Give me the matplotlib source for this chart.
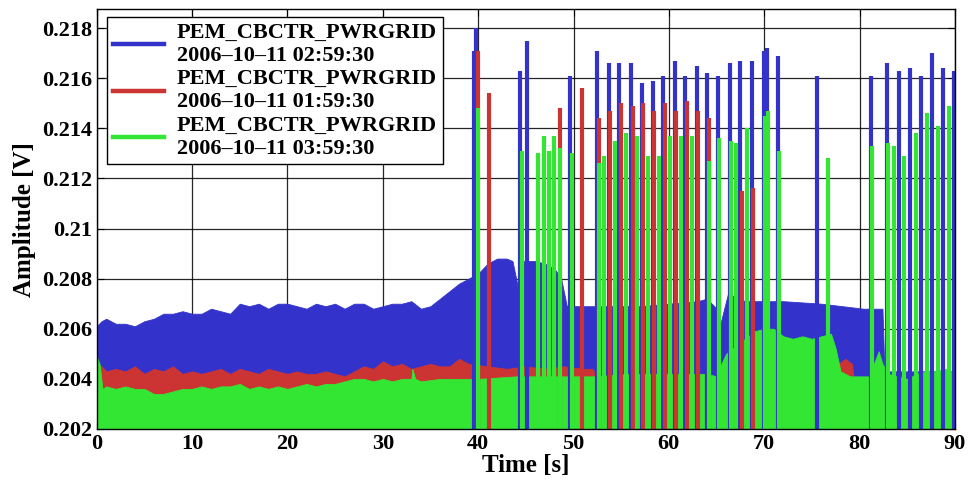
import numpy as np
import matplotlib
matplotlib.use('Agg')
import matplotlib.pyplot as plt

# -----------------------------------------------------------------------------
# Datos (envolvente superior de cada banda + picos)
# -----------------------------------------------------------------------------
BASE = 0.2015  # la senal baja por debajo del eje

blue_t = [0, 0.5, 1, 2, 3, 4, 5, 6, 7, 8, 9, 10, 11, 12, 13, 14, 15, 16, 17,
          18, 19, 20, 21, 22, 23, 24, 25, 26, 27, 28, 29, 30, 31, 32, 33, 34,
          35, 36, 37, 38, 39, 40, 41, 42, 43, 43.6, 44.2, 44.8, 46, 47, 48,
          48.7, 49.3, 52, 57, 63, 64, 65, 65.4, 66.2, 68, 72, 76, 80.4, 82.4,
          82.6, 86, 90]
blue_up = [0.2061, 0.2063, 0.2064, 0.2062, 0.2062, 0.2061, 0.2063, 0.2064,
           0.2066, 0.2066, 0.2067, 0.2066, 0.2066, 0.2068, 0.2067, 0.2066,
           0.2070, 0.2069, 0.2070, 0.2068, 0.2070, 0.2070, 0.2069, 0.2068,
           0.2070, 0.2069, 0.2070, 0.2068, 0.2070, 0.2070, 0.2068, 0.2069,
           0.2070, 0.2070, 0.2071, 0.2068, 0.2069, 0.2072, 0.2075, 0.2078,
           0.2080, 0.2082, 0.2086, 0.2088, 0.2088, 0.2087, 0.2076, 0.2087,
           0.2087, 0.2086, 0.2084, 0.2080, 0.2069, 0.2069, 0.2069, 0.2071,
           0.2072, 0.2068, 0.2062, 0.2074, 0.2071, 0.2071, 0.2070, 0.2068,
           0.2068, 0.2043, 0.2043, 0.2043]

red_t = [0, 0.5, 1, 2, 3, 4, 5, 6, 7, 8, 9, 10, 11, 12, 13, 14, 15, 16, 17,
         18, 19, 20, 21, 22, 23, 24, 25, 26, 27, 28, 29, 30, 31, 32, 33, 34,
         35, 36, 37, 38, 39, 41, 43, 45, 47, 49, 51, 52, 52.5, 77, 77.8, 78.5,
         79.2, 79.5]
red_up = [0.2046, 0.2045, 0.2043, 0.2044, 0.2043, 0.2045, 0.2042, 0.2044,
          0.2043, 0.2045, 0.2042, 0.2043, 0.2042, 0.2043, 0.2044, 0.2042,
          0.2044, 0.2043, 0.2042, 0.2044, 0.2043, 0.2042, 0.2043, 0.2042,
          0.2042, 0.2043, 0.2042, 0.2041, 0.2043, 0.2045, 0.2044, 0.2047,
          0.2045, 0.2046, 0.2044, 0.2045, 0.2046, 0.2045, 0.2045, 0.2048,
          0.2046, 0.2045, 0.2044, 0.2045, 0.2044, 0.2045, 0.2044, 0.2044,
          0.2040, 0.2040, 0.2046, 0.2048, 0.2046, 0.2035]

green_t = [0, 0.3, 0.6, 1, 2, 3, 4, 5, 6, 7, 8, 9, 10, 11, 12, 13, 14, 15, 16,
           17, 18, 19, 20, 21, 22, 23, 24, 25, 26, 27, 28, 29, 30, 31, 32, 33,
           33.1, 33.4, 34, 36, 38, 40, 44, 48, 52, 56, 60, 64, 65, 65.5, 66,
           67, 68, 69, 70, 71, 72, 73, 74, 75, 76, 77, 77.5, 78, 79, 80, 81,
           81.6, 82, 82.4, 83, 84, 85, 86, 87, 88, 89, 90]
green_up = [0.2049, 0.2046, 0.2036, 0.2037, 0.2036, 0.2037, 0.2036, 0.2036,
            0.2034, 0.2034, 0.2035, 0.2036, 0.2036, 0.2037, 0.2036, 0.2037,
            0.2037, 0.2038, 0.2036, 0.2037, 0.2036, 0.2037, 0.2036, 0.2037,
            0.2038, 0.2037, 0.2038, 0.2038, 0.2039, 0.2040, 0.2040, 0.2039,
            0.2040, 0.2039, 0.2040, 0.2040, 0.2044, 0.2040, 0.2039, 0.2040,
            0.2040, 0.2040, 0.2041, 0.2041, 0.2041, 0.2042, 0.2042, 0.2042,
            0.2041, 0.2046, 0.2050, 0.2053, 0.2056, 0.2059, 0.2060, 0.2060,
            0.2057, 0.2056, 0.2057, 0.2056, 0.2057, 0.2058, 0.2052, 0.2043,
            0.2041, 0.2041, 0.2041, 0.2047, 0.2051, 0.2046, 0.2042, 0.2041,
            0.2040, 0.2042, 0.2043, 0.2043, 0.2044, 0.2042]

blue_spk_t = [39.6, 39.8, 44.4, 45.1, 49.6, 52.5, 53.7, 54.8, 56.0, 57.2, 58.3,
              59.4, 60.6, 61.7, 62.9, 64.0, 65.2, 66.4, 67.5, 68.7, 70.0, 70.3,
              71.4, 75.5, 81.2, 82.9, 84.1, 85.3, 86.4, 87.6, 88.7, 89.9]
blue_spk_y = [0.2171, 0.2180, 0.2163, 0.2175, 0.2161, 0.2171, 0.2166, 0.2166,
              0.2166, 0.2158, 0.2159, 0.2161, 0.2167, 0.2161, 0.2165, 0.2162,
              0.2161, 0.2166, 0.2167, 0.2167, 0.2171, 0.2172, 0.2169, 0.2161,
              0.2161, 0.2166, 0.2163, 0.2164, 0.2161, 0.2170, 0.2164, 0.2163]

red_spk_t = [40.0, 41.1, 48.6, 50.9, 52.7, 53.8, 55.0, 56.2, 57.3, 58.4, 59.6,
             60.8, 61.9, 63.1, 64.2, 67.7, 68.8]
red_spk_y = [0.2171, 0.2154, 0.2148, 0.2156, 0.2144, 0.2147, 0.2150, 0.2149,
             0.2150, 0.2147, 0.2150, 0.2147, 0.2151, 0.2147, 0.2144, 0.2115,
             0.2116]

green_spk_t = [40.0, 44.6, 46.3, 46.9, 47.4, 48.0, 48.6, 49.8, 52.7, 53.2, 54.3,
               55.5, 56.7, 57.8, 59.0, 60.1, 61.3, 62.4, 64.2, 65.3, 66.5, 67.0,
               68.2, 70.1, 70.4, 71.6, 76.7, 81.3, 83.0, 83.6, 84.7, 85.9, 87.1,
               88.2, 89.4]
green_spk_y = [0.2148, 0.2131, 0.2130, 0.2137, 0.2131, 0.2137, 0.2132, 0.2130,
               0.2126, 0.2129, 0.2135, 0.2138, 0.2137, 0.2129, 0.2129, 0.2137,
               0.2137, 0.2137, 0.2127, 0.2136, 0.2135, 0.2134, 0.2140, 0.2145,
               0.2147, 0.2131, 0.2128, 0.2133, 0.2134, 0.2133, 0.2129, 0.2138,
               0.2146, 0.2141, 0.2149]

labels = ['PEM_CBCTR_PWRGRID\n2006\u201310\u201311 02:59:30',
          'PEM_CBCTR_PWRGRID\n2006\u201310\u201311 01:59:30',
          'PEM_CBCTR_PWRGRID\n2006\u201310\u201311 03:59:30']
colors = ['#3333cc', '#cc3333', '#33e633']

x_ticks = list(range(0, 91, 10))
y_ticks = [0.202, 0.204, 0.206, 0.208, 0.21, 0.212, 0.214, 0.216, 0.218]

# -----------------------------------------------------------------------------
# Figura
# -----------------------------------------------------------------------------
plt.rcParams['font.family'] = ['Liberation Serif', 'DejaVu Serif']
plt.rcParams['font.weight'] = 'bold'

fig = plt.figure(figsize=(9.69, 4.86), dpi=100)
ax = fig.add_axes([0.0998, 0.1173, 0.8857, 0.8632])

series = [(blue_t, blue_up, blue_spk_t, blue_spk_y),
          (red_t, red_up, red_spk_t, red_spk_y),
          (green_t, green_up, green_spk_t, green_spk_y)]

handles = []
for (t, up, st, sy), col, lab in zip(series, colors, labels):
    ax.fill_between(t, BASE, up, color=col, linewidth=0.6, edgecolor=col)
    ax.vlines(st, BASE, sy, color=col, linewidth=3.0)
    h, = ax.plot([], [], color=col, linewidth=3.2, label=lab)
    handles.append(h)

ax.set_xlim(0, 90)
ax.set_ylim(0.202, 0.21874)
ax.set_xticks(x_ticks)
ax.set_yticks(y_ticks)
ax.set_yticklabels([f'{v:g}' for v in y_ticks])
ax.tick_params(labelsize=16, direction='in', length=5, top=True, right=True,
               width=0.8)
ax.grid(True, color='black', linewidth=0.9, alpha=0.85)
ax.set_axisbelow(True)
for sp in ax.spines.values():
    sp.set_linewidth(1.0)

ax.set_xlabel('Time [s]', fontsize=18, fontweight='bold', labelpad=0)
ax.set_ylabel('Amplitude [V]', fontsize=18, fontweight='bold', labelpad=4)

leg = ax.legend(handles=handles, loc='upper left',
                bbox_to_anchor=(0.012, 0.981), borderaxespad=0,
                fontsize=16, fancybox=False, framealpha=1,
                edgecolor='black', handlelength=2.3, handletextpad=0.6,
                labelspacing=0.15, borderpad=0.25)
leg.get_frame().set_linewidth(1.0)

fig.savefig('out.png', dpi=100)
